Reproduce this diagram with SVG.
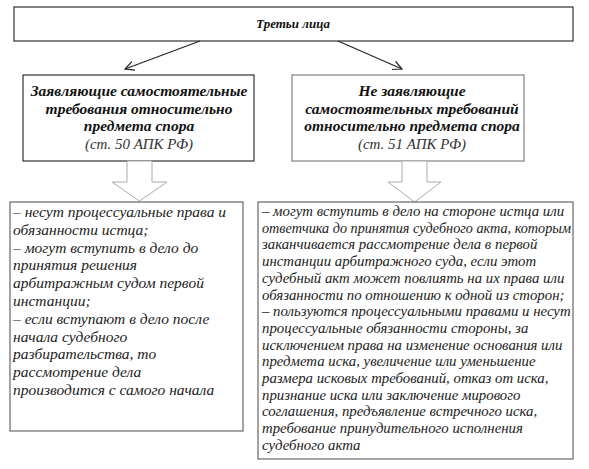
<svg xmlns="http://www.w3.org/2000/svg" width="589" height="469" viewBox="0 0 589 469">
<defs>
<marker id="open" viewBox="0 0 10 10" refX="9" refY="5" markerWidth="10" markerHeight="10" markerUnits="userSpaceOnUse" orient="auto">
<path d="M0,0.5 L9,5 L0,9.5" fill="none" stroke="#222" stroke-width="1.2"/>
</marker>
</defs>
<style>
.box{fill:#fff;stroke:#333;stroke-width:1.2}
.boxg{fill:#fff;stroke:#808080;stroke-width:1.2}
.boxd{fill:#fff;stroke:#666;stroke-width:1.2}
.blk{fill:#fff;stroke:#aaa;stroke-width:1}
.h{font-family:'Liberation Serif',serif;font-style:italic;font-weight:bold;fill:#111;text-anchor:middle}
.s{font-family:'Liberation Serif',serif;font-style:italic;fill:#333;text-anchor:middle;font-size:15px}
.t{font-family:'Liberation Serif',serif;font-style:italic;fill:#222}
.c{fill:none;stroke:#222;stroke-width:1.1}
</style>
<rect width="589" height="469" fill="#fff"/>
<g id="top">
<rect class="box" x="14" y="7" width="559" height="34"/>
<text class="h" x="293" y="28" font-size="13">Третьи лица</text>
</g>
<g id="left">
<rect class="box" x="23" y="75" width="231" height="86"/>
<text class="h" font-size="15.5"><tspan x="139" y="96">Заявляющие самостоятельные</tspan><tspan x="139" y="113.5">требования относительно</tspan><tspan x="139" y="131">предмета спора</tspan></text>
<text class="s"><tspan x="139" y="148.5">(ст. 50 АПК РФ)</tspan></text>
</g>
<g id="right">
<rect class="boxg" x="292" y="75" width="232" height="86"/>
<text class="h" font-size="15.5"><tspan x="412" y="96">Не заявляющие</tspan><tspan x="412" y="113.5">самостоятельных требований</tspan><tspan x="412" y="131">относительно предмета спора</tspan></text>
<text class="s"><tspan x="412" y="148.5">(ст. 51 АПК РФ)</tspan></text>
</g>
<g id="connectors">
<line class="c" x1="200" y1="41" x2="125" y2="69" marker-end="url(#open)"/>
<line class="c" x1="338" y1="41" x2="402" y2="69" marker-end="url(#open)"/>
<polygon class="blk" points="127,161 152,161 152,182 167,182 139.5,201 112,182 127,182"/>
<polygon class="blk" points="402,161 427,161 427,182 441,182 414.5,202 388,182 402,182"/>
</g>
<g id="left-details">
<rect class="boxd" x="10" y="202" width="233" height="229"/>
<text class="t" font-size="15.5">
<tspan x="13" y="217">– несут процессуальные права и</tspan>
<tspan x="13" y="234.8">обязанности истца;</tspan>
<tspan x="13" y="252.6">– могут вступить в дело до</tspan>
<tspan x="13" y="270.4">принятия решения</tspan>
<tspan x="13" y="288.2">арбитражным судом первой</tspan>
<tspan x="13" y="306">инстанции;</tspan>
<tspan x="13" y="323.8">– если вступают в дело после</tspan>
<tspan x="13" y="341.6">начала судебного</tspan>
<tspan x="13" y="359.4">разбирательства, то</tspan>
<tspan x="13" y="377.2">рассмотрение дела</tspan>
<tspan x="13" y="395">производится с самого начала</tspan>
</text>
</g>
<g id="right-details">
<rect class="boxd" x="258" y="202" width="315" height="257"/>
<text class="t" font-size="14.8">
<tspan x="262" y="216">– могут вступить в дело на стороне истца или</tspan>
<tspan x="262" y="232.7" textLength="309" lengthAdjust="spacingAndGlyphs">ответчика до принятия судебного акта, которым</tspan>
<tspan x="262" y="249.4">заканчивается рассмотрение дела в первой</tspan>
<tspan x="262" y="266.1">инстанции арбитражного суда, если этот</tspan>
<tspan x="262" y="282.8">судебный акт может повлиять на их права или</tspan>
<tspan x="262" y="299.5">обязанности по отношению к одной из сторон;</tspan>
<tspan x="262" y="316.2">– пользуются процессуальными правами и несут</tspan>
<tspan x="262" y="332.9">процессуальные обязанности стороны, за</tspan>
<tspan x="262" y="349.6">исключением права на изменение основания или</tspan>
<tspan x="262" y="366.3">предмета иска, увеличение или уменьшение</tspan>
<tspan x="262" y="383">размера исковых требований, отказ от иска,</tspan>
<tspan x="262" y="399.7">признание иска или заключение мирового</tspan>
<tspan x="262" y="416.4">соглашения, предъявление встречного иска,</tspan>
<tspan x="262" y="433.1">требование принудительного исполнения</tspan>
<tspan x="262" y="449.8">судебного акта</tspan>
</text>
</g>
</svg>
